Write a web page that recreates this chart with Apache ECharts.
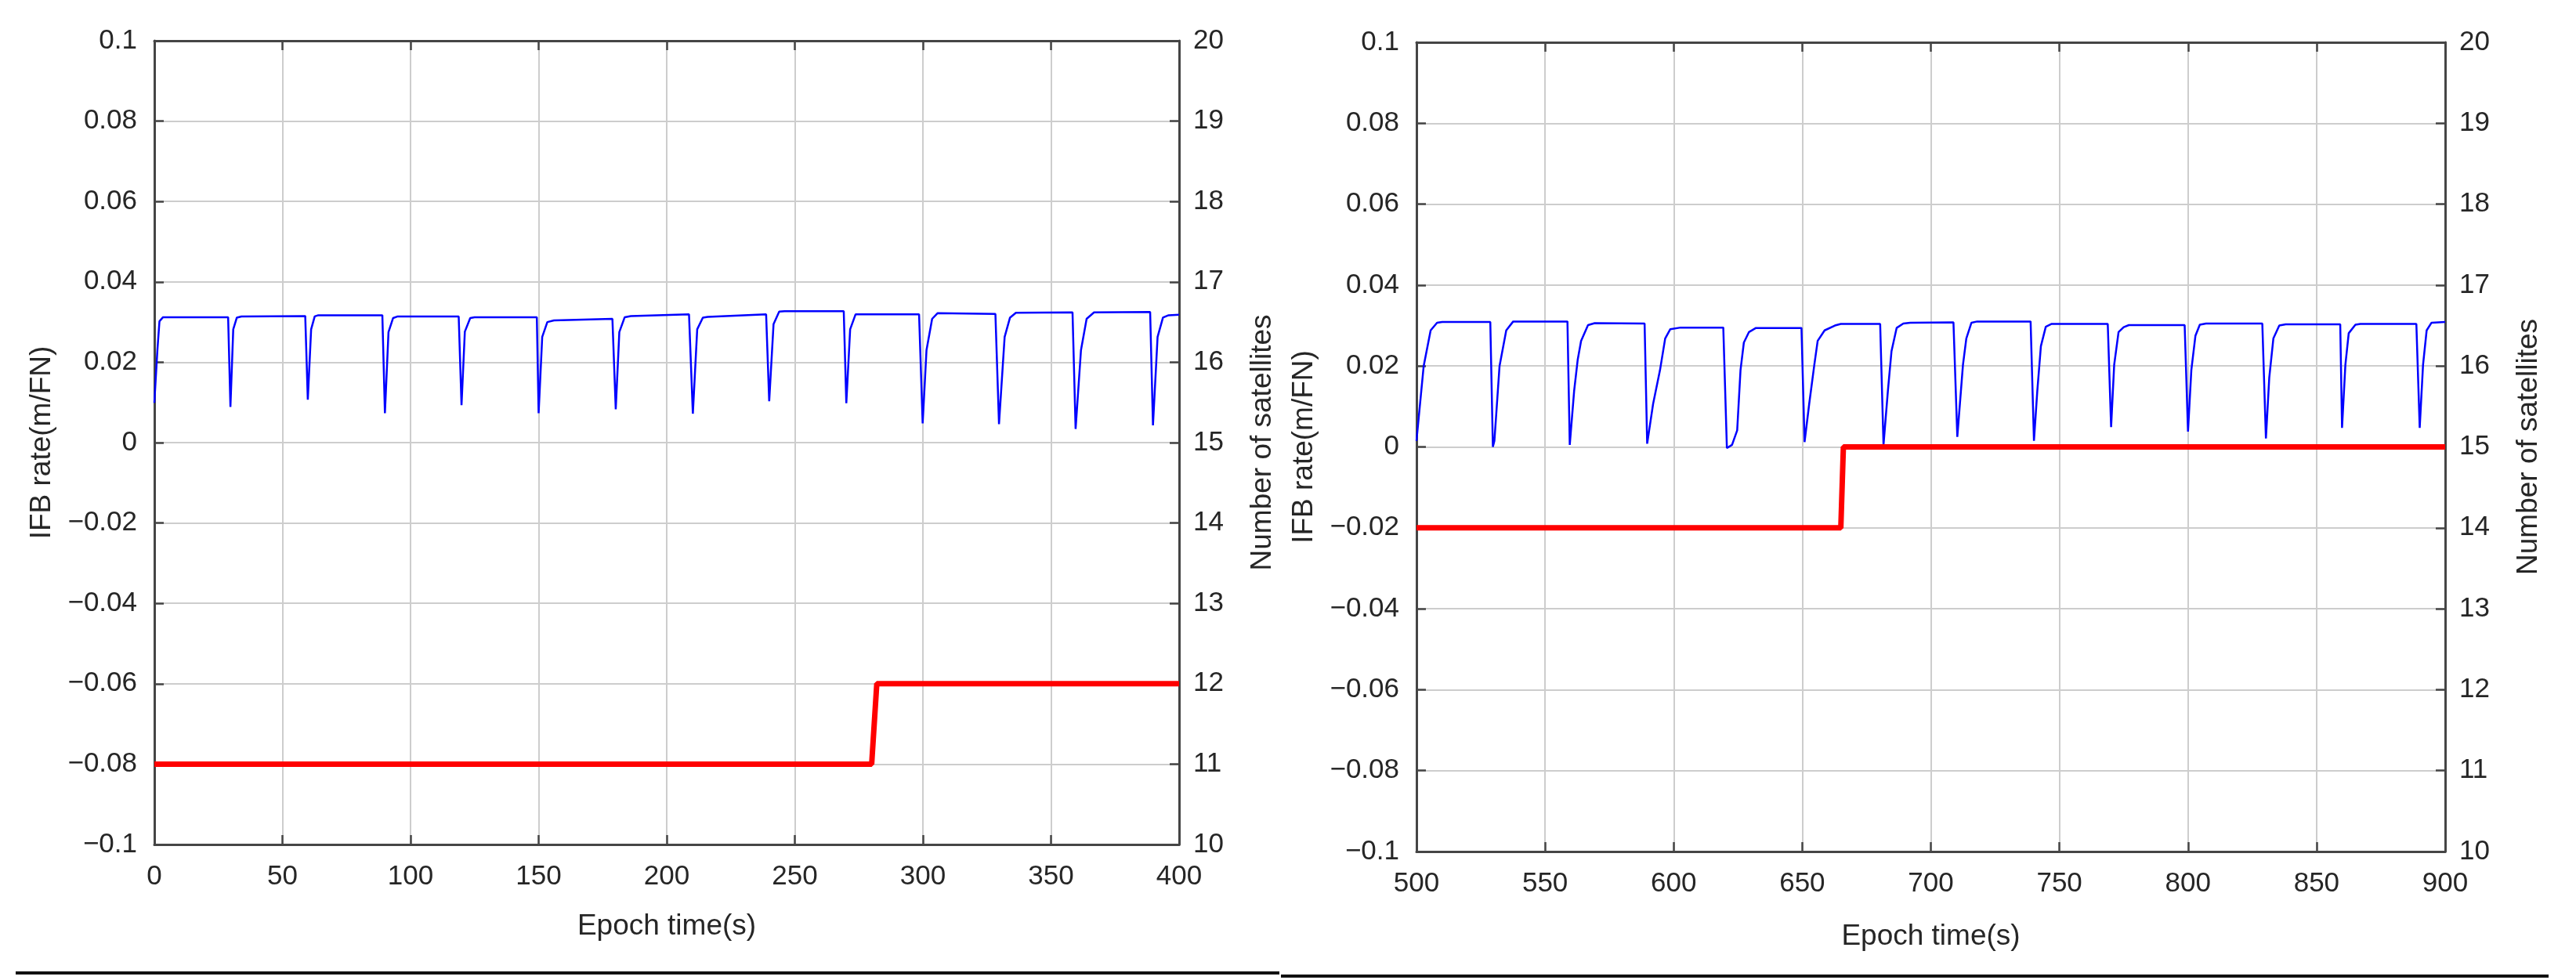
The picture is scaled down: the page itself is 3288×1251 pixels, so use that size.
<!DOCTYPE html>
<html>
<head>
<meta charset="utf-8">
<title>IFB rate and number of satellites</title>
<script src="https://cdn.jsdelivr.net/npm/echarts@6/dist/echarts.min.js"></script>
<style>
  html, body { margin: 0; padding: 0; background: #ffffff; }
  #chart { width: 3288px; height: 1251px; }
</style>
</head>
<body>
<div id="chart"></div>
<script>
// ---------------- DATA ----------------
// Left panel: IFB rate (m/FN) vs epoch time (s)
const ifbRateLeft = [
  [0,0.0099],[1.2,0.0231],[2,0.0302],[3.4,0.0312],
  [28.8,0.0312],[29.7,0.0089],[30.8,0.0282],[32.2,0.0311],[34,0.0314],
  [58.9,0.0315],[59.9,0.0107],[61.2,0.0282],[62.6,0.0314],[64,0.0317],
  [89,0.0317],[90,0.0073],[91.4,0.0275],[93.2,0.031],[95,0.0314],
  [118.8,0.0314],[119.9,0.0093],[121.2,0.0276],[123.3,0.031],[125,0.0312],
  [149.3,0.0312],[150,0.0073],[151.4,0.0263],[153.4,0.0300],[156,0.0304],[178.8,0.0308],
  [180.1,0.0083],[181.5,0.0275],[183.6,0.0312],[186,0.0315],
  [208.7,0.0319],[210.2,0.0072],[211.9,0.0282],[214.1,0.0311],[216,0.0313],
  [238.8,0.0319],[240,0.0103],[241.7,0.0295],[243.9,0.0326],[246,0.0327],
  [269.1,0.0327],[270.1,0.0098],[271.6,0.0282],[273.7,0.0319],
  [298.5,0.0319],[299.9,0.0048],[301.4,0.023],[303.6,0.0308],[305.7,0.0322],[328.3,0.032],
  [329.7,0.0046],[331.9,0.0263],[334,0.0311],[336.3,0.0323],[358.4,0.0324],
  [359.6,0.0034],[361.7,0.023],[363.9,0.0308],[366.8,0.0324],[388.7,0.0325],
  [389.8,0.0043],[391.6,0.0263],[393.7,0.0311],[395.9,0.0317],[400,0.0318]
];
// Left panel: number of satellites
const satCountLeft = [[0,11],[280,11],[282,12],[400,12]];

// Right panel: IFB rate (m/FN)
const ifbRateRight = [
  [500,0.0015],[502.8,0.02],[505.5,0.0288],[508,0.0307],[510,0.0309],
  [528.7,0.0309],[529.7,0.0],[530.3,0.0015],[532.3,0.02],[534.9,0.0288],[537.6,0.031],
  [558.7,0.031],[559.6,0.0005],[561.3,0.0138],[562.7,0.0216],[564,0.0262],[566.7,0.0301],[569.3,0.0306],
  [588.7,0.0305],[589.7,0.0008],[592,0.0106],[594.7,0.019],[596.7,0.0268],[598.7,0.0291],[602.7,0.0295],
  [619.3,0.0295],[620.7,-0.0003],[622.7,0.0005],[624.7,0.0041],[626,0.019],[627.3,0.0258],[629.3,0.0284],[632,0.0294],
  [649.7,0.0294],[650.9,0.0012],[652.7,0.0106],[654.7,0.0203],[656,0.0262],[658.7,0.0288],[662.7,0.030],[665,0.0304],
  [680.3,0.0304],[681.6,0.0005],[683.3,0.0138],[684.7,0.0236],[686.7,0.0294],[689.3,0.0305],[692,0.0307],
  [708.8,0.0308],[710.3,0.0025],[712.5,0.0203],[713.8,0.0268],[715.8,0.0307],[718,0.031],
  [738.8,0.031],[740.1,0.0015],[741.4,0.0138],[742.8,0.0249],[744.7,0.0297],[747,0.0304],
  [768.8,0.0304],[770.1,0.0049],[771.3,0.0203],[773,0.0284],[775,0.0296],[777,0.0301],
  [798.7,0.0301],[800,0.0038],[801.3,0.019],[802.9,0.0275],[804.6,0.0302],[807,0.0305],
  [828.9,0.0305],[830.3,0.0021],[831.6,0.0171],[833.2,0.0268],[835.5,0.030],[838,0.0303],
  [859.2,0.0303],[859.9,0.0047],[861.2,0.0203],[862.5,0.0281],[865.1,0.0302],[867,0.0304],
  [888.8,0.0304],[890.1,0.0047],[891.4,0.0203],[892.8,0.0288],[894.7,0.0307],[900,0.0309]
];
// Right panel: number of satellites
const satCountRight = [[500,14],[665,14],[666,15],[900,15]];

// Tick values and labels
const rateTicks = [-0.1,-0.08,-0.06,-0.04,-0.02,0,0.02,0.04,0.06,0.08,0.1];
const rateTickLabels = ['\u22120.1','\u22120.08','\u22120.06','\u22120.04','\u22120.02','0','0.02','0.04','0.06','0.08','0.1'];
const satTicks = [10,11,12,13,14,15,16,17,18,19,20];
const satTickLabels = ['10','11','12','13','14','15','16','17','18','19','20'];
const epochTicksLeft = [0,50,100,150,200,250,300,350,400];
const epochTicksRight = [500,550,600,650,700,750,800,850,900];

// Text
const rateAxisName = 'IFB rate(m/FN)';
const satAxisName = 'Number of satellites';
const epochAxisName = 'Epoch time(s)';

// ---------------- STYLE ----------------
const FONT = "'Liberation Sans', Arial, Helvetica, sans-serif";
const TICK_FS = 35;
const NAME_FS = 37;
const AXIS_COLOR = '#454545';
const TEXT_COLOR = '#262626';
const GRID_COLOR = '#cdcdcd';

function labelFrom(ticks, labels) {
  return function (v) {
    for (let i = 0; i < ticks.length; i++) {
      if (Math.abs(ticks[i] - v) < 1e-9) return labels[i];
    }
    return '';
  };
}

function xAxisBottom(gridIndex, ticks, nameGap) {
  return {
    type: 'value', gridIndex: gridIndex, position: 'bottom',
    min: ticks[0], max: ticks[ticks.length - 1], interval: 50,
    name: epochAxisName, nameLocation: 'middle', nameGap: nameGap,
    nameTextStyle: { fontFamily: FONT, fontSize: NAME_FS, color: TEXT_COLOR },
    axisLine: { show: true, onZero: false, lineStyle: { color: AXIS_COLOR, width: 3 } },
    axisTick: { show: true, inside: true, length: 12, lineStyle: { color: AXIS_COLOR, width: 2.5 } },
    axisLabel: { show: true, margin: 24, fontFamily: FONT, fontSize: TICK_FS, color: TEXT_COLOR,
      showMinLabel: true, showMaxLabel: true,
      formatter: labelFrom(ticks, ticks.map(String)) },
    splitLine: { show: true, lineStyle: { color: GRID_COLOR, width: 2 } },
    minorTick: { show: false }
  };
}

function xAxisTop(gridIndex, ticks) {
  return {
    type: 'value', gridIndex: gridIndex, position: 'top',
    min: ticks[0], max: ticks[ticks.length - 1], interval: 50,
    axisLine: { show: true, onZero: false, lineStyle: { color: AXIS_COLOR, width: 3 } },
    axisTick: { show: true, inside: true, length: 12, lineStyle: { color: AXIS_COLOR, width: 2.5 } },
    axisLabel: { show: false },
    splitLine: { show: false }
  };
}

function yAxisRate(gridIndex) {
  return {
    type: 'value', gridIndex: gridIndex, position: 'left',
    min: -0.1, max: 0.1, interval: 0.02,
    name: rateAxisName, nameLocation: 'middle', nameGap: 125, nameRotate: 90,
    nameTextStyle: { fontFamily: FONT, fontSize: NAME_FS, color: TEXT_COLOR },
    axisLine: { show: true, onZero: false, lineStyle: { color: AXIS_COLOR, width: 3 } },
    axisTick: { show: true, inside: true, length: 12, lineStyle: { color: AXIS_COLOR, width: 2.5 } },
    axisLabel: { show: true, margin: 22, fontFamily: FONT, fontSize: TICK_FS, color: TEXT_COLOR,
      showMinLabel: true, showMaxLabel: true,
      formatter: labelFrom(rateTicks, rateTickLabels) },
    splitLine: { show: true, lineStyle: { color: GRID_COLOR, width: 2 } }
  };
}

function yAxisSat(gridIndex) {
  return {
    type: 'value', gridIndex: gridIndex, position: 'right',
    min: 10, max: 20, interval: 1,
    name: satAxisName, nameLocation: 'middle', nameGap: 88, nameRotate: 90,
    nameTextStyle: { fontFamily: FONT, fontSize: NAME_FS, color: TEXT_COLOR },
    axisLine: { show: true, onZero: false, lineStyle: { color: AXIS_COLOR, width: 3 } },
    axisTick: { show: true, inside: true, length: 12, lineStyle: { color: AXIS_COLOR, width: 2.5 } },
    axisLabel: { show: true, margin: 18, fontFamily: FONT, fontSize: TICK_FS, color: TEXT_COLOR,
      showMinLabel: true, showMaxLabel: true,
      formatter: labelFrom(satTicks, satTickLabels) },
    splitLine: { show: false }
  };
}

const chart = echarts.init(document.getElementById('chart'), null, { renderer: 'canvas' });

const option = {
  animation: false,
  backgroundColor: '#ffffff',
  grid: [
    { left: 197, top: 52, width: 1308, height: 1026, containLabel: false, show: false },
    { left: 1808, top: 54, width: 1313, height: 1033, containLabel: false, show: false }
  ],
  xAxis: [
    xAxisBottom(0, epochTicksLeft, 86),
    xAxisTop(0, epochTicksLeft),
    xAxisBottom(1, epochTicksRight, 90),
    xAxisTop(1, epochTicksRight)
  ],
  yAxis: [
    yAxisRate(0),
    yAxisSat(0),
    yAxisRate(1),
    yAxisSat(1)
  ],
  series: [
    { type: 'line', name: 'IFB rate L', xAxisIndex: 0, yAxisIndex: 0, data: ifbRateLeft,
      showSymbol: false, symbol: 'none', smooth: false,
      lineStyle: { color: '#0000ff', width: 2.5 }, z: 3 },
    { type: 'line', name: 'Satellites L', xAxisIndex: 0, yAxisIndex: 1, data: satCountLeft,
      showSymbol: false, symbol: 'none',
      lineStyle: { color: '#ff0000', width: 7 }, z: 4 },
    { type: 'line', name: 'IFB rate R', xAxisIndex: 2, yAxisIndex: 2, data: ifbRateRight,
      showSymbol: false, symbol: 'none', smooth: false,
      lineStyle: { color: '#0000ff', width: 2.5 }, z: 3 },
    { type: 'line', name: 'Satellites R', xAxisIndex: 2, yAxisIndex: 3, data: satCountRight,
      showSymbol: false, symbol: 'none',
      lineStyle: { color: '#ff0000', width: 7 }, z: 4 }
  ],
  graphic: [
    { type: 'line', shape: { x1: 20, y1: 1242, x2: 1633, y2: 1242 },
      style: { stroke: '#111111', lineWidth: 4 }, silent: true },
    { type: 'line', shape: { x1: 1635, y1: 1246, x2: 3253, y2: 1246 },
      style: { stroke: '#111111', lineWidth: 4 }, silent: true }
  ]
};

chart.setOption(option);
</script>
</body>
</html>
